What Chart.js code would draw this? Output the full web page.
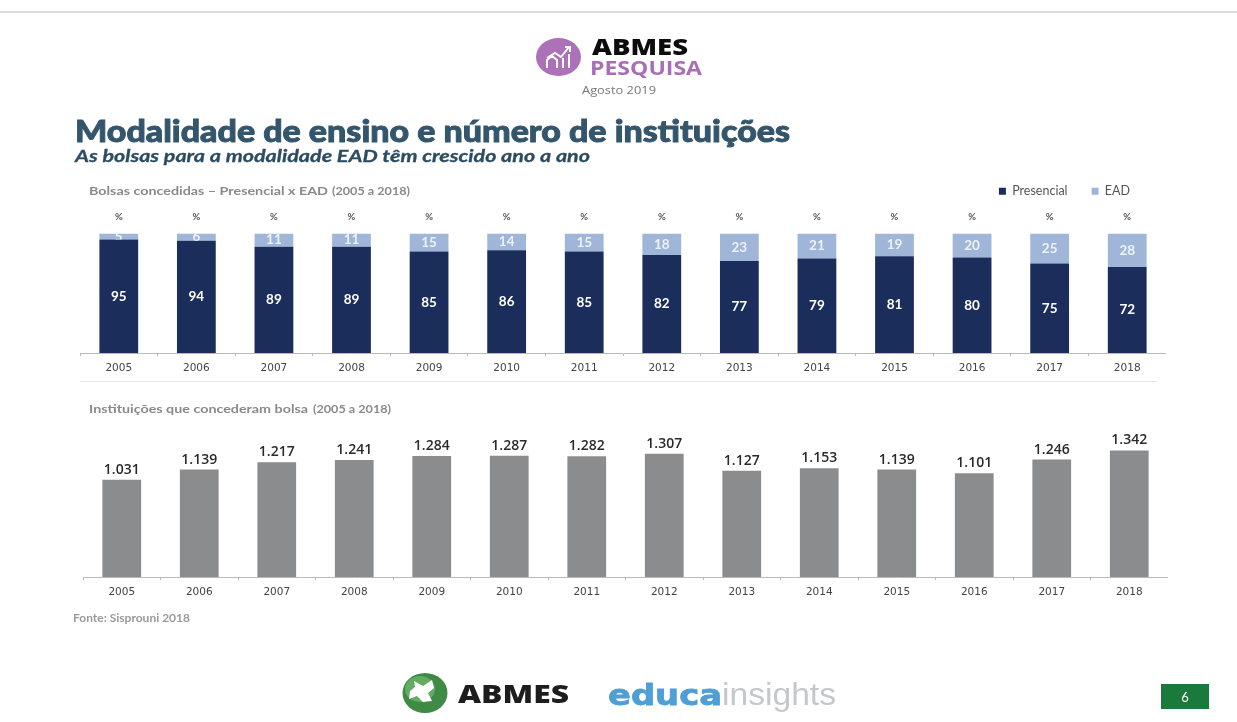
<!DOCTYPE html>
<html><head><meta charset="utf-8">
<style>
html,body{margin:0;padding:0;background:#fff;width:1237px;height:722px;overflow:hidden}
#stage{position:relative;width:1237px;height:722px;filter:blur(0.6px)}
canvas{position:absolute}
#art{position:absolute;left:0;top:0}
</style>
<script src="https://cdn.jsdelivr.net/npm/chart.js@4"></script>
</head><body>
<div id="stage">
<svg id="art" width="1237" height="722" xmlns="http://www.w3.org/2000/svg">
  <rect x="0" y="11" width="1237" height="2" fill="#dcdcdc"/>
  <ellipse cx="558.5" cy="57" rx="22.5" ry="19" fill="#ac71b8"/>
  <g fill="none" stroke="#fff" stroke-width="2">
    <path d="M547 68v-8l5-4 5 4v8M557 68v-9M563 68v-10M569 68V54"/>
    <path d="M547 58l8-5 6 4 8-10M565 47h5v5"/>
  </g>
  <text x="592" y="55" font-family="'Open Sans'" font-weight="800" font-size="22" fill="#0c0c0c" textLength="96" lengthAdjust="spacingAndGlyphs">ABMES</text>
  <text x="590" y="75" font-family="'Open Sans'" font-weight="700" font-size="20" fill="#a96fb6" textLength="112" lengthAdjust="spacingAndGlyphs">PESQUISA</text>
  <text x="582" y="94" font-family="'Open Sans'" font-size="11" fill="#777" textLength="74" lengthAdjust="spacingAndGlyphs">Agosto 2019</text>
  <text x="75" y="142" font-family="Lato" font-weight="900" font-size="30" fill="#34566c" stroke="#34566c" stroke-width="0.9" textLength="715" lengthAdjust="spacingAndGlyphs">Modalidade de ensino e número de instituições</text>
  <text x="75" y="162" font-family="Lato" font-weight="700" font-style="italic" font-size="17.5" fill="#2c4c62" stroke="#2c4c62" stroke-width="0.3" textLength="515" lengthAdjust="spacingAndGlyphs">As bolsas para a modalidade EAD têm crescido ano a ano</text>
  <text x="89" y="195" font-family="Lato" font-size="11.5" font-weight="700" fill="#8a8a8a" textLength="239" lengthAdjust="spacingAndGlyphs">Bolsas concedidas – Presencial x EAD</text>
  <text x="332" y="195" font-family="Lato" font-size="10.5" font-weight="700" fill="#8a8a8a" textLength="78" lengthAdjust="spacingAndGlyphs">(2005 a 2018)</text>
  <rect x="80" y="381" width="1077" height="1" fill="#e4e4e4"/>
  <text x="89" y="413" font-family="Lato" font-size="11.5" font-weight="700" fill="#8a8a8a" textLength="219" lengthAdjust="spacingAndGlyphs">Instituições que concederam bolsa</text>
  <text x="313" y="413" font-family="Lato" font-size="10.5" font-weight="700" fill="#8a8a8a" textLength="78" lengthAdjust="spacingAndGlyphs">(2005 a 2018)</text>
  <text x="73" y="622" font-family="Lato" font-size="10.5" font-weight="700" fill="#9a9a9a" textLength="117" lengthAdjust="spacingAndGlyphs">Fonte: Sisprouni 2018</text>
  <ellipse cx="425" cy="693" rx="22.5" ry="20" fill="#3f8a45"/>
  <ellipse cx="420" cy="689" rx="15" ry="13" fill="#62ab62"/>
  <path d="M414 681l9 5 9-6 2 8-6 5 4 8-9 1-6-6-8 3 1-8 5-4z" fill="#fff"/>
  <text x="458" y="703" font-family="'Open Sans'" font-weight="800" font-size="24" fill="#1d1d1d" textLength="111" lengthAdjust="spacingAndGlyphs">ABMES</text>
  <text x="608" y="705" font-family="'DejaVu Sans'" font-weight="700" font-size="29" fill="#4f9fd6" stroke="#4f9fd6" stroke-width="0.8" textLength="114" lengthAdjust="spacingAndGlyphs">educa</text>
  <text x="722" y="705" font-family="'Liberation Sans'" font-size="31" fill="#c4c8cc" textLength="114" lengthAdjust="spacingAndGlyphs">insights</text>
  <rect x="1161" y="684" width="48" height="25" fill="#1a7a3c"/>
  <text x="1185" y="702" text-anchor="middle" font-family="Lato" font-size="13" fill="#fff">6</text>
</svg>
<canvas id="top" style="left:80px;top:161px;width:1086px;height:219px" width="1086" height="219"></canvas>
<canvas id="bottom" style="left:83px;top:420px;width:1085px;height:184px" width="1085" height="184"></canvas>
</div>
<script>
const years = ['2005','2006','2007','2008','2009','2010','2011','2012','2013','2014','2015','2016','2017','2018'];
const presencial = [95,94,89,89,85,86,85,82,77,79,81,80,75,72];
const ead = [5,6,11,11,15,14,15,18,23,21,19,20,25,28];
const instituicoes = [1031,1139,1217,1241,1284,1287,1282,1307,1127,1153,1139,1101,1246,1342];
const instituicoesLabels = ['1.031','1.139','1.217','1.241','1.284','1.287','1.282','1.307','1.127','1.153','1.139','1.101','1.246','1.342'];
const unitLabel = '%';

const NAVY = '#1b2d5b', LIGHT = '#9fb6d9', GREY = '#8b8c8e';

const stackLabels = {
  id: 'stackLabels',
  beforeInit(chart) {
    const legend = chart.legend;
    const fit = legend.fit;
    legend.fit = function () { fit.call(this); this.height += 26; };
  },
  afterDatasetsDraw(chart) {
    const ctx = chart.ctx;
    ctx.save();
    ctx.textAlign = 'center';
    ctx.textBaseline = 'middle';
    chart.data.datasets.forEach((ds, di) => {
      chart.getDatasetMeta(di).data.forEach((bar, i) => {
        const top = Math.min(bar.y, bar.base), bot = Math.max(bar.y, bar.base);
        ctx.save();
        ctx.beginPath();
        ctx.rect(bar.x - bar.width / 2, top, bar.width, bot - top);
        ctx.clip();
        ctx.fillStyle = di === 0 ? '#ffffff' : '#eef2f8';
        ctx.font = '700 13.5px Lato';
        ctx.fillText(String(ds.data[i]), bar.x, (top + bot) / 2);
        ctx.restore();
        if (di === 1) {
          ctx.fillStyle = '#555';
          ctx.font = '700 9.5px Lato';
          ctx.fillText(unitLabel, bar.x, top - 17);
        }
      });
    });
    ctx.restore();
  },
  afterLayout(chart) {
    chart.legend.right = chart.width - 12;
    chart.legend.adjustHitBoxes();
  }
};

const valueLabels = {
  id: 'valueLabels',
  afterDatasetsDraw(chart) {
    const ctx = chart.ctx;
    ctx.save();
    ctx.textAlign = 'center';
    ctx.textBaseline = 'alphabetic';
    ctx.fillStyle = '#2b2b2b';
    ctx.font = '600 14px "Open Sans"';
    chart.getDatasetMeta(0).data.forEach((bar, i) => {
      ctx.fillText(instituicoesLabels[i], bar.x, bar.y - 6);
    });
    ctx.restore();
  }
};

function xAxis(h) {
  return {
    stacked: true,
    afterFit(s) { s.height = h; },
    border: { color: '#b9b9b9', width: 1 },
    grid: { drawOnChartArea: false, drawTicks: true, tickLength: 3, color: '#b9b9b9', offset: true },
    ticks: { color: '#444', font: { family: 'DejaVu Sans', size: 10.5 }, padding: 6, maxRotation: 0, autoSkip: false }
  };
}

new Chart(document.getElementById('top'), {
  type: 'bar',
  data: {
    labels: years,
    datasets: [
      { label: 'Presencial', data: presencial, backgroundColor: NAVY, barPercentage: 1, categoryPercentage: 0.5 },
      { label: 'EAD', data: ead, backgroundColor: LIGHT, barPercentage: 1, categoryPercentage: 0.5 }
    ]
  },
  options: {
    responsive: false, animation: false,
    layout: { padding: 0 },
    plugins: {
      tooltip: { enabled: false },
      legend: {
        position: 'top', align: 'end',
        labels: { boxWidth: 7, boxHeight: 7, padding: 24, color: '#555', font: { family: 'Lato', size: 12.5 } }
      }
    },
    scales: {
      x: xAxis(27),
      y: { stacked: true, display: false, min: 0, max: 100 }
    }
  },
  plugins: [stackLabels]
});

new Chart(document.getElementById('bottom'), {
  type: 'bar',
  data: {
    labels: years,
    datasets: [{ label: 'Instituições', data: instituicoes, backgroundColor: GREY, barPercentage: 1, categoryPercentage: 0.5 }]
  },
  options: {
    responsive: false, animation: false,
    layout: { padding: { top: 25, left: 0, right: 0, bottom: 0 } },
    plugins: { legend: { display: false }, tooltip: { enabled: false } },
    scales: {
      x: xAxis(27),
      y: { display: false, min: 0, max: 1400 }
    }
  },
  plugins: [valueLabels]
});
</script>
</body></html>
